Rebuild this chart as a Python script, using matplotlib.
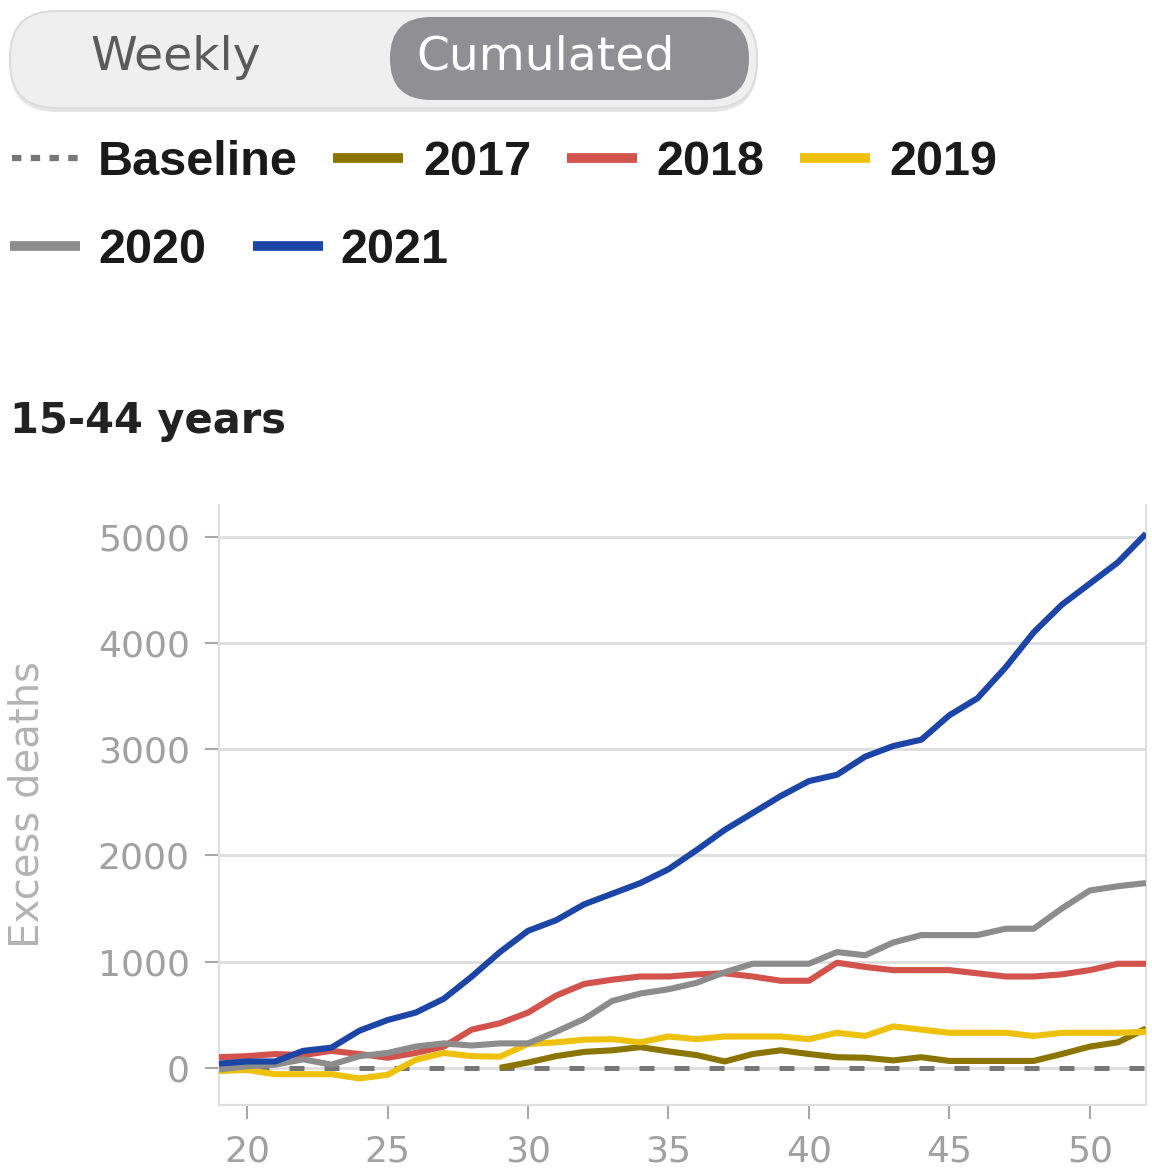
import matplotlib
matplotlib.use("Agg")
import matplotlib.pyplot as plt
from matplotlib.patches import FancyBboxPatch

# ---------------- data ----------------
weeks = list(range(19, 53))
weeks_2017 = list(range(29, 53))

y2017 = [0, 50, 110, 150, 165, 195, 155, 120, 60, 130, 165, 130, 100, 95,
         70, 100, 65, 65, 65, 65, 130, 200, 240, 370]
y2018 = [100, 110, 130, 120, 160, 130, 95, 140, 200, 360, 420, 520, 680, 790,
         830, 860, 860, 880, 890, 860, 820, 820, 990, 950, 920, 920, 920, 890,
         860, 860, 880, 920, 980, 980]
y2019 = [-30, -20, -60, -60, -60, -100, -65, 75, 140, 110, 105, 225, 240, 265,
         270, 240, 295, 270, 295, 295, 295, 270, 330, 300, 390, 360, 330, 330,
         330, 300, 330, 330, 330, 340]
y2020 = [-15, 15, 30, 80, 30, 110, 140, 200, 230, 210, 230, 230, 340, 460,
         630, 700, 740, 800, 900, 980, 980, 980, 1090, 1060, 1180, 1250, 1250,
         1250, 1310, 1310, 1500, 1670, 1710, 1740]
y2021 = [40, 60, 60, 160, 190, 350, 450, 520, 650, 860, 1090, 1290, 1390, 1540,
         1640, 1740, 1870, 2050, 2240, 2400, 2560, 2700, 2760, 2930, 3030, 3090,
         3320, 3480, 3770, 4100, 4360, 4560, 4760, 5030]
baseline = [0] * len(weeks)

series_labels = ["2017", "2018", "2019", "2020", "2021"]
series_colors = ["#8b7500", "#d1534b", "#eec10c", "#8c8c8c", "#1b45a6"]
x_ticks = [20, 25, 30, 35, 40, 45, 50]
y_ticks = [0, 1000, 2000, 3000, 4000, 5000]
title = "15-44 years"
y_label = "Excess deaths"
toggle_labels = ["Weekly", "Cumulated"]

W, H = 1152, 1172
fig = plt.figure(figsize=(W / 100, H / 100), dpi=100)
fig.patch.set_facecolor("white")

# ---------------- main axes ----------------
ax = fig.add_axes([219 / W, 1 - 1105 / H, (1146 - 219) / W, (1105 - 505) / H])
ax.set_xlim(19, 52)
ax.set_ylim(-350, 5300)

for yv in y_ticks:
    ax.axhline(yv, color="#dddddd", lw=2.0, zorder=1)

ax.plot(weeks, baseline, color="#777777", lw=3.6, dashes=(3, 4), zorder=2,
        solid_capstyle="butt", dash_capstyle="butt")

all_x = [weeks_2017, weeks, weeks, weeks, weeks]
all_y = [y2017, y2018, y2019, y2020, y2021]
for i, (xs, ys) in enumerate(zip(all_x, all_y)):
    ax.plot(xs, ys, color=series_colors[i], lw=4.4, zorder=3 + i,
            solid_joinstyle="round", solid_capstyle="butt")

ax.set_xticks(x_ticks)
ax.set_yticks(y_ticks)
ax.tick_params(axis="both", colors="#a8a8a8", labelcolor="#a0a0a0",
               labelsize=26, width=1.5, length=10)
ax.tick_params(axis="y", pad=11)
ax.tick_params(axis="x", pad=11)
for lab in ax.get_xticklabels() + ax.get_yticklabels():
    lab.set_family("DejaVu Sans")
ax.spines["top"].set_visible(False)
for s in ["left", "right", "bottom"]:
    ax.spines[s].set_color("#dedede")
    ax.spines[s].set_linewidth(1.5)
ax.set_facecolor("white")

# ---------------- overlay (pixel coordinates) ----------------
ov = fig.add_axes([0, 0, 1, 1], zorder=5)
ov.set_xlim(0, W)
ov.set_ylim(H, 0)
ov.axis("off")
ov.patch.set_alpha(0)

# toggle pill
shadow = FancyBboxPatch((10 + 46, 14 + 46), 747 - 92, 98 - 92,
                        boxstyle="round,pad=46", fc="#e6e6e6", ec="none")
ov.add_patch(shadow)
outer = FancyBboxPatch((10 + 46, 11 + 46), 747 - 92, 97 - 92,
                       boxstyle="round,pad=46", fc="#efefef", ec="#dcdcdc", lw=1.5)
ov.add_patch(outer)
inner = FancyBboxPatch((390 + 41, 17 + 41), 359 - 82, 83 - 82,
                       boxstyle="round,pad=41", fc="#8f8f94", ec="none")
ov.add_patch(inner)
ov.text(176, 70, toggle_labels[0], ha="center", va="baseline", fontsize=34,
        color="#5b5b5b", family="DejaVu Sans")
ov.text(546, 70, toggle_labels[1], ha="center", va="baseline", fontsize=34,
        color="white", family="DejaVu Sans")

# legend
leg_font = dict(fontsize=35, fontweight="bold", color="#1a1a1a",
                family="Liberation Sans", va="baseline", ha="left")
ov.plot([12, 78], [158, 158], color="#777777", lw=4.5, dashes=(1.5, 1.5),
        solid_capstyle="butt", dash_capstyle="butt")
ov.text(98, 175, "Baseline", **leg_font)
row1 = [(333, 423), (567, 656), (800, 889)]
for (hx, tx), lab, col in zip(row1, series_labels[:3], series_colors[:3]):
    ov.plot([hx, hx + 70], [158, 158], color=col, lw=7, solid_capstyle="butt")
    ov.text(tx, 175, lab, **leg_font)
row2 = [(10, 98), (253, 340)]
for (hx, tx), lab, col in zip(row2, series_labels[3:], series_colors[3:]):
    ov.plot([hx, hx + 70], [246, 246], color=col, lw=7, solid_capstyle="butt")
    ov.text(tx, 263, lab, **leg_font)

# title
ov.text(10, 433, title, fontsize=30, fontweight="bold", color="#222222",
        family="DejaVu Sans", ha="left", va="baseline")

# y label
ov.text(28, 805, y_label, fontsize=29, color="#b3b3b3", family="DejaVu Sans",
        rotation=90, ha="center", va="center")

fig.savefig("out.png", dpi=100, facecolor="white")
